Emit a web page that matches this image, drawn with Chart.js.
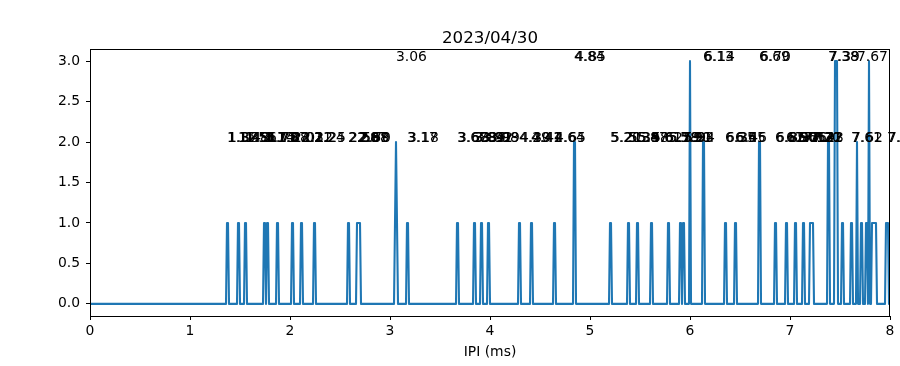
<!DOCTYPE html>
<html>
<head>
<meta charset="utf-8">
<script src="https://cdn.jsdelivr.net/npm/chart.js@4"></script>
<style>
  html, body { margin: 0; padding: 0; background: #fff; }
  canvas { display: block; }
</style>
</head>
<body>
<canvas id="chart" width="900" height="366"></canvas>
<script>
// Histogram of IPI values (bin width 0.01 ms)
const binStep = 0.01;
const binCount = 800;
const onesX = [1.37, 1.38, 1.48, 1.49, 1.55, 1.56, 1.74, 1.75, 1.77, 1.78, 1.87, 1.88,
  2.02, 2.03, 2.11, 2.12, 2.24, 2.25, 2.58, 2.59, 2.67, 2.68, 2.69, 2.70,
  3.05, 3.07, 3.17, 3.18, 3.67, 3.68, 3.84, 3.85, 3.91, 3.92, 3.98, 3.99,
  4.29, 4.30, 4.41, 4.42, 4.64, 4.65, 5.20, 5.21, 5.38, 5.39, 5.47, 5.48,
  5.61, 5.62, 5.78, 5.79, 5.90, 5.91, 5.93, 5.94, 6.35, 6.36, 6.45, 6.46,
  6.85, 6.86, 6.96, 6.97, 7.05, 7.06, 7.13, 7.14, 7.20, 7.21, 7.22, 7.23,
  7.52, 7.53, 7.61, 7.62, 7.71, 7.72, 7.76, 7.77, 7.82, 7.83, 7.84, 7.85, 7.86,
  7.96, 7.97, 7.98];
const twosX = [3.06, 4.84, 4.85, 6.13, 6.14, 6.69, 6.70, 7.38, 7.39, 7.67];
const threesX = [6.00, 7.45, 7.46, 7.47, 7.79];

// bins that carry a value label (drawn at count + 1)
const label2X = [1.37, 1.38, 1.48, 1.49, 1.55, 1.56, 1.74, 1.75, 1.77, 1.78, 1.87, 1.88,
  2.02, 2.03, 2.11, 2.12, 2.24, 2.25, 2.58, 2.59, 2.67, 2.68, 2.69, 2.70,
  3.17, 3.18, 3.67, 3.68, 3.84, 3.85, 3.91, 3.92, 3.98, 3.99,
  4.29, 4.30, 4.41, 4.42, 4.64, 4.65, 5.20, 5.21, 5.38, 5.39, 5.47, 5.48,
  5.61, 5.62, 5.78, 5.79, 5.90, 5.91, 5.93, 5.94, 6.35, 6.36, 6.45, 6.46,
  6.85, 6.86, 6.96, 6.97, 7.05, 7.06, 7.13, 7.14, 7.20, 7.21, 7.22, 7.23,
  7.61, 7.62, 7.97, 7.98];
const label3X = [3.06, 4.84, 4.85, 6.13, 6.14, 6.69, 6.70, 7.38, 7.39, 7.67];

const xTicks = [0, 1, 2, 3, 4, 5, 6, 7, 8];
const yTicks = [0, 0.5, 1, 1.5, 2, 2.5, 3];

// build the zero-filled series
const counts = new Array(binCount + 1).fill(0);
onesX.forEach(v => counts[Math.round(v / binStep)] = 1);
twosX.forEach(v => counts[Math.round(v / binStep)] = 2);
threesX.forEach(v => counts[Math.round(v / binStep)] = 3);
const points = counts.map((c, i) => ({ x: +(i * binStep).toFixed(2), y: c }));

const labels = label2X.map(x => ({ x, y: 2 })).concat(label3X.map(x => ({ x, y: 3 })));

const FONT = '"DejaVu Sans", "Liberation Sans", sans-serif';

const extras = {
  id: 'extras',
  beforeDraw(chart) {
    const ctx = chart.ctx;
    ctx.save();
    ctx.fillStyle = '#fff';
    ctx.fillRect(0, 0, chart.width, chart.height);
    ctx.restore();
  },
  afterDraw(chart) {
    const ctx = chart.ctx;
    const a = chart.chartArea;
    const xs = chart.scales.x, ys = chart.scales.y;
    ctx.save();
    // frame
    ctx.strokeStyle = '#000';
    ctx.lineWidth = 1;
    ctx.strokeRect(a.left + 0.5, a.top + 0.5, a.right - a.left - 1, a.bottom - a.top);
    // annotations
    ctx.fillStyle = '#000';
    ctx.font = '13.9px ' + FONT;
    ctx.textAlign = 'left';
    ctx.textBaseline = 'alphabetic';
    labels.forEach(l => {
      if (l.y > ys.max || l.x > xs.max) return;
      ctx.fillText(l.x.toFixed(2), xs.getPixelForValue(l.x), ys.getPixelForValue(l.y));
    });
    // title and x label
    ctx.textAlign = 'center';
    ctx.font = '16.7px ' + FONT;
    ctx.fillText('2023/04/30', (a.left + a.right) / 2, 43);
    ctx.font = '13.9px ' + FONT;
    ctx.textBaseline = 'top';
    ctx.fillText('IPI (ms)', (a.left + a.right) / 2, 345);
    ctx.restore();
  }
};

new Chart(document.getElementById('chart'), {
  type: 'line',
  data: {
    datasets: [{
      data: points,
      borderColor: '#1f77b4',
      borderWidth: 2.08,
      borderJoinStyle: 'round',
      pointRadius: 0,
      tension: 0,
      fill: false
    }]
  },
  options: {
    responsive: false,
    animation: false,
    devicePixelRatio: 1,
    layout: { padding: { top: 49, right: 10, left: 0, bottom: 0 } },
    plugins: { legend: { display: false }, tooltip: { enabled: false }, title: { display: false } },
    scales: {
      x: {
        type: 'linear',
        min: 0,
        max: 8,
        afterBuildTicks: s => { s.ticks = xTicks.map(v => ({ value: v })); },
        afterFit: s => { s.height = 50; },
        ticks: { color: '#000', font: { family: FONT, size: 13.9 }, padding: 3, maxRotation: 0,
          callback: v => String(v) },
        grid: { drawOnChartArea: false, drawTicks: true, tickLength: 4, tickColor: '#000', tickWidth: 1 },
        border: { display: true, color: '#000', width: 1 }
      },
      y: {
        type: 'linear',
        min: -0.15,
        max: 3.15,
        afterBuildTicks: s => { s.ticks = yTicks.map(v => ({ value: v })); },
        afterFit: s => { s.width = 90; },
        ticks: { color: '#000', font: { family: FONT, size: 13.9 }, padding: 6,
          callback: v => v.toFixed(1) },
        grid: { drawOnChartArea: false, drawTicks: true, tickLength: 4, tickColor: '#000', tickWidth: 1 },
        border: { display: true, color: '#000', width: 1 }
      }
    }
  },
  plugins: [extras]
});
</script>
</body>
</html>
